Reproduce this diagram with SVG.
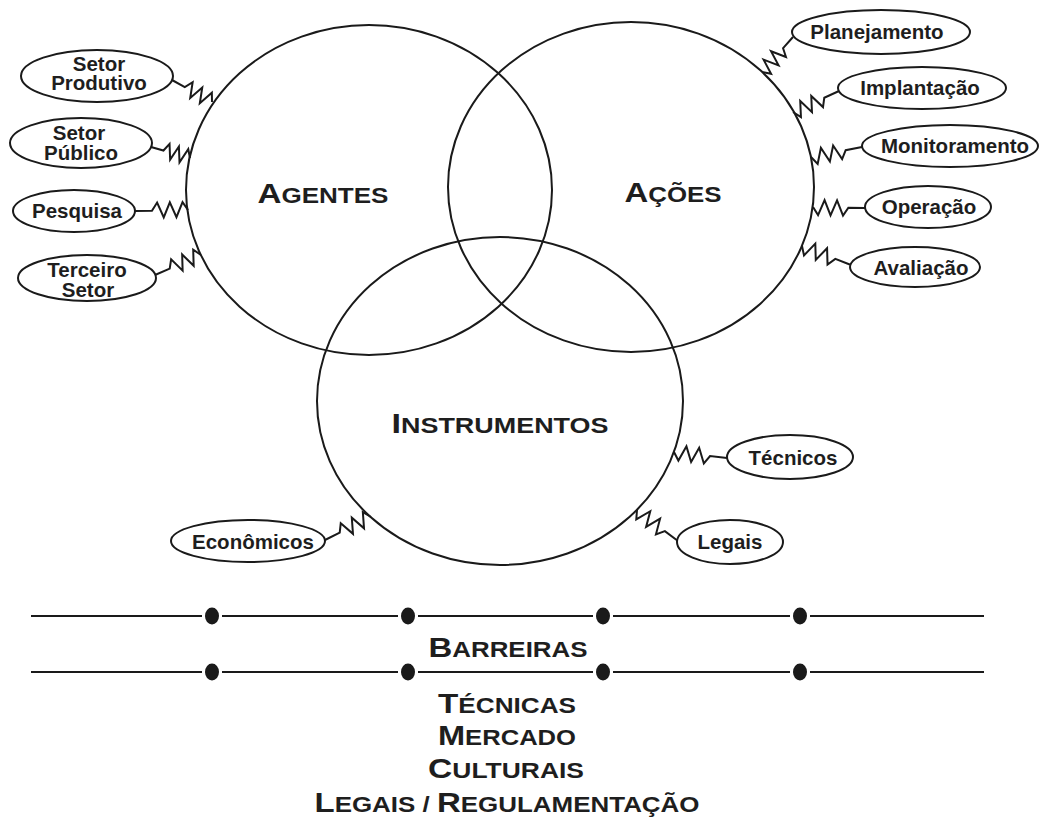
<svg xmlns="http://www.w3.org/2000/svg" xmlns:xlink="http://www.w3.org/1999/xlink" width="1040" height="819" viewBox="0 0 1040 819">
<style>
.c{fill:none;stroke:#1a1a1a;stroke-width:2}
.ov{fill:#fff;stroke:#1a1a1a;stroke-width:2}
.lbl{font-family:"Liberation Sans",Arial,sans-serif;font-weight:bold;font-size:20.5px;fill:#1e1e1e;text-anchor:middle}
.big{font-family:"Liberation Sans",Arial,sans-serif;font-weight:bold;font-size:22px;fill:#1e1e1e;text-anchor:middle}
.cap{font-size:28px}
.ln{stroke:#1a1a1a;stroke-width:2.2}
.dot{fill:#1a1a1a}
</style>
<defs>
<path id="zz" d="M0,0 H16 L21,-8 L27,7 L33,-8 L39,7 L45,-8 L50,0" fill="none" stroke="#1a1a1a" stroke-width="2" vector-effect="non-scaling-stroke" stroke-linejoin="miter"/>
</defs>

<g id="connectors">
<use xlink:href="#zz" transform="translate(172,80) rotate(28.81) scale(0.913,1)"/>
<use xlink:href="#zz" transform="translate(151,147) rotate(15.75) scale(0.810,1)"/>
<use xlink:href="#zz" transform="translate(135,211) rotate(-1.08) scale(1.060,1)"/>
<use xlink:href="#zz" transform="translate(155,275) rotate(-23.5) scale(1.003,1)"/>
<use xlink:href="#zz" transform="translate(793,37) rotate(131.53) scale(0.935,1)"/>
<use xlink:href="#zz" transform="translate(839,91) rotate(155.46) scale(1.011,1)"/>
<use xlink:href="#zz" transform="translate(862,147) rotate(168.91) scale(1.039,1)"/>
<use xlink:href="#zz" transform="translate(865,208) rotate(181.1) scale(1.040,1)"/>
<use xlink:href="#zz" transform="translate(851,265) rotate(201.19) scale(1.051,1)"/>
<use xlink:href="#zz" transform="translate(325,540) rotate(-26.57) scale(1.029,1)"/>
<use xlink:href="#zz" transform="translate(727,458) rotate(186.46) scale(1.067,1)"/>
<use xlink:href="#zz" transform="translate(678,541) rotate(217.09) scale(1.028,1)"/>
</g>

<g id="agentes">
<ellipse class="c" cx="369" cy="190" rx="183" ry="165"/>
<text class="big" x="323" y="203" textLength="131" lengthAdjust="spacingAndGlyphs"><tspan class="cap">A</tspan>GENTES</text>
</g>
<g id="acoes">
<ellipse class="c" cx="631" cy="187" rx="183" ry="165"/>
<text class="big" x="673" y="202" textLength="97" lengthAdjust="spacingAndGlyphs"><tspan class="cap">A</tspan>ÇÕES</text>
</g>
<g id="instrumentos">
<ellipse class="c" cx="500" cy="401" rx="183" ry="164"/>
<text class="big" x="500" y="433" textLength="217" lengthAdjust="spacingAndGlyphs"><tspan class="cap">I</tspan>NSTRUMENTOS</text>
</g>

<g id="setor-produtivo">
<ellipse class="ov" cx="97" cy="76" rx="76" ry="26"/>
<text class="lbl"><tspan x="99" y="71">Setor</tspan><tspan x="99" y="90">Produtivo</tspan></text>
</g>
<g id="setor-publico">
<ellipse class="ov" cx="81" cy="143" rx="71" ry="25"/>
<text class="lbl"><tspan x="79" y="140">Setor</tspan><tspan x="81" y="160">Público</tspan></text>
</g>
<g id="pesquisa">
<ellipse class="ov" cx="74" cy="211" rx="61" ry="21"/>
<text class="lbl" x="77" y="218">Pesquisa</text>
</g>
<g id="terceiro-setor">
<ellipse class="ov" cx="87" cy="278" rx="69" ry="23"/>
<text class="lbl"><tspan x="87" y="277">Terceiro</tspan><tspan x="88" y="297">Setor</tspan></text>
</g>

<g id="planejamento">
<ellipse class="ov" cx="881" cy="32" rx="89" ry="22"/>
<text class="lbl" x="877" y="39">Planejamento</text>
</g>
<g id="implantacao">
<ellipse class="ov" cx="922" cy="88" rx="84" ry="21"/>
<text class="lbl" x="920" y="95">Implantação</text>
</g>
<g id="monitoramento">
<ellipse class="ov" cx="950" cy="146" rx="88" ry="21"/>
<text class="lbl" x="955" y="153">Monitoramento</text>
</g>
<g id="operacao">
<ellipse class="ov" cx="928" cy="207" rx="63" ry="21"/>
<text class="lbl" x="929" y="214">Operação</text>
</g>
<g id="avaliacao">
<ellipse class="ov" cx="915" cy="267" rx="65" ry="20"/>
<text class="lbl" x="921" y="275">Avaliação</text>
</g>

<g id="economicos">
<ellipse class="ov" cx="248" cy="541" rx="77" ry="21"/>
<text class="lbl" x="253" y="549">Econômicos</text>
</g>
<g id="tecnicos">
<ellipse class="ov" cx="790" cy="457" rx="63" ry="22"/>
<text class="lbl" x="793" y="465">Técnicos</text>
</g>
<g id="legais">
<ellipse class="ov" cx="730" cy="542" rx="53" ry="22"/>
<text class="lbl" x="730" y="549">Legais</text>
</g>

<g id="barreiras">
<g class="ln">
<line x1="31" y1="616" x2="202" y2="616"/><line x1="222" y1="616" x2="398" y2="616"/><line x1="418" y1="616" x2="593" y2="616"/><line x1="613" y1="616" x2="790" y2="616"/><line x1="810" y1="616" x2="984" y2="616"/>
<line x1="31" y1="672" x2="202" y2="672"/><line x1="222" y1="672" x2="398" y2="672"/><line x1="418" y1="672" x2="593" y2="672"/><line x1="613" y1="672" x2="790" y2="672"/><line x1="810" y1="672" x2="984" y2="672"/>
</g>
<ellipse class="dot" cx="212" cy="616" rx="7" ry="8.5"/><ellipse class="dot" cx="408" cy="616" rx="7" ry="8.5"/><ellipse class="dot" cx="603" cy="616" rx="7" ry="8.5"/><ellipse class="dot" cx="800" cy="616" rx="7" ry="8.5"/>
<ellipse class="dot" cx="212" cy="672" rx="7" ry="8.5"/><ellipse class="dot" cx="408" cy="672" rx="7" ry="8.5"/><ellipse class="dot" cx="603" cy="672" rx="7" ry="8.5"/><ellipse class="dot" cx="800" cy="672" rx="7" ry="8.5"/>
<text class="big" x="508" y="657" textLength="159" lengthAdjust="spacingAndGlyphs"><tspan class="cap">B</tspan>ARREIRAS</text>
<text class="big" x="507" y="713" textLength="138" lengthAdjust="spacingAndGlyphs"><tspan class="cap">T</tspan>ÉCNICAS</text>
<text class="big" x="507" y="745" textLength="138" lengthAdjust="spacingAndGlyphs"><tspan class="cap">M</tspan>ERCADO</text>
<text class="big" x="506" y="778" textLength="156" lengthAdjust="spacingAndGlyphs"><tspan class="cap">C</tspan>ULTURAIS</text>
<text class="big" x="507" y="812" textLength="385" lengthAdjust="spacingAndGlyphs"><tspan class="cap">L</tspan>EGAIS / <tspan class="cap">R</tspan>EGULAMENTAÇÃO</text>
</g>
</svg>
